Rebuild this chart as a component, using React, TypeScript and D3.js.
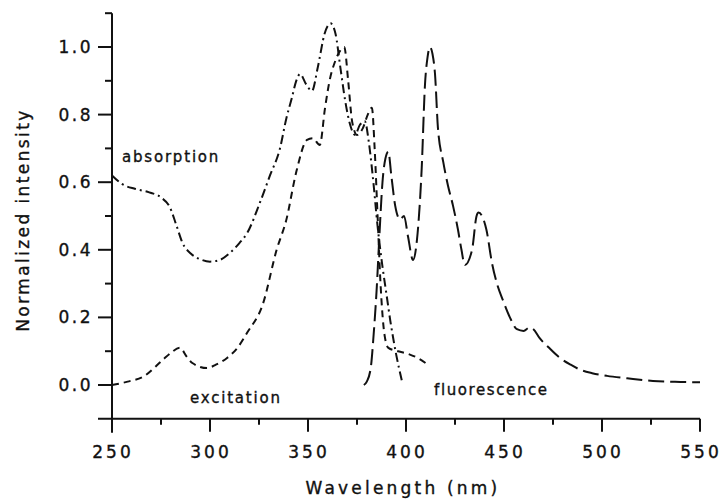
import React from "react";
import * as d3 from "d3";

const absorptionWl = [250, 255, 262, 269, 275, 279.6, 283, 286, 290, 295, 300, 305, 310, 315, 319, 325.5, 330.6, 335.7, 339, 341.8, 344, 346, 349, 352, 355, 358.5, 361.5, 364, 366.5, 369, 371.5, 374, 376.5, 379, 381, 383, 385.5, 388, 390, 392, 395, 398];
const absorptionVal = [0.62, 0.595, 0.58, 0.57, 0.555, 0.525, 0.47, 0.42, 0.39, 0.372, 0.365, 0.37, 0.39, 0.42, 0.45, 0.54, 0.62, 0.7, 0.79, 0.85, 0.9, 0.92, 0.89, 0.87, 0.94, 1.04, 1.07, 1.04, 0.94, 0.84, 0.77, 0.74, 0.77, 0.78, 0.72, 0.62, 0.47, 0.35, 0.27, 0.19, 0.09, 0.01];

const excitationWl = [250, 258, 266, 276, 280, 284.7, 288, 291, 298.5, 303, 308.7, 314, 319, 327, 334, 339, 344, 349.5, 352.5, 356, 358.7, 361, 364, 366.5, 368.5, 370.5, 372.5, 375, 378, 380.5, 382.6, 384, 385.5, 387, 389, 391, 396, 402, 406, 410];
const excitationVal = [0.0, 0.01, 0.025, 0.075, 0.095, 0.11, 0.085, 0.065, 0.05, 0.06, 0.08, 0.11, 0.155, 0.24, 0.4, 0.49, 0.63, 0.725, 0.73, 0.71, 0.82, 0.9, 0.96, 0.99, 1.0, 0.9, 0.78, 0.74, 0.76, 0.8, 0.82, 0.7, 0.5, 0.3, 0.15, 0.11, 0.1, 0.09, 0.08, 0.065];

const fluorescenceWl = [378.5, 380, 382, 383.5, 385, 386.5, 388, 389.5, 391, 392.5, 394.5, 397, 399, 401, 403.6, 405.6, 408, 409.7, 411, 412.2, 413.5, 414.8, 416.3, 419, 421.4, 424, 426.5, 428.3, 430, 433.7, 436, 437, 441, 443.9, 446.4, 449.5, 453, 456.6, 460, 463, 465, 468, 473, 478.6, 484, 489, 495, 502.6, 512.8, 526, 540, 550];
const fluorescenceVal = [0.0, 0.01, 0.05, 0.15, 0.28, 0.45, 0.6, 0.67, 0.69, 0.62, 0.53, 0.49, 0.5, 0.44, 0.37, 0.43, 0.64, 0.89, 0.97, 1.0, 0.98, 0.92, 0.76, 0.66, 0.59, 0.53, 0.46, 0.4, 0.355, 0.4, 0.5, 0.51, 0.46, 0.36, 0.3, 0.25, 0.2, 0.165, 0.16, 0.17, 0.165, 0.14, 0.11, 0.08, 0.06, 0.045, 0.035, 0.027, 0.02, 0.012, 0.009, 0.008];

const xTicks = [250, 300, 350, 400, 450, 500, 550];
const xMinorTicks = [275, 325, 375, 425, 475, 525];
const yTicks = [0.0, 0.2, 0.4, 0.6, 0.8, 1.0];
const yMinorTicks = [0.1, 0.3, 0.5, 0.7, 0.9, 1.1];

const seriesLabels = ["absorption", "excitation", "fluorescence"];
const xTitle = "Wavelength (nm)";
const yTitle = "Normalized intensity";

export default function App() {
  const x = d3.scaleLinear().domain([250, 550]).range([112, 700]);
  const y = d3.scaleLinear().domain([0, 1]).range([385, 47]);
  const axisY = y(-0.1);
  const ink = "#111";
  const font = "'DejaVu Sans', Verdana, sans-serif";
  const textStroke = { stroke: ink, strokeWidth: 0.35 };

  const mk = (wl: number[], v: number[]) =>
    d3
      .line<number>()
      .x((d, i) => x(wl[i]))
      .y((d) => y(d))
      .curve(d3.curveMonotoneX)(v) as string;

  return (
    <svg width={721} height={501} style={{ position: "absolute", left: 0, top: 0, background: "#fff" }} fontFamily={font}>
      <rect width={721} height={501} fill="#fff" />
      <line x1={98} x2={x(550)} y1={axisY} y2={axisY} stroke={ink} strokeWidth={2} />
      <line x1={x(250)} x2={x(250)} y1={y(1.1)} y2={axisY + 14} stroke={ink} strokeWidth={2} />
      {xTicks.map((t) => (
        <g key={"xt" + t}>
          <line x1={x(t)} x2={x(t)} y1={axisY} y2={axisY + 13} stroke={ink} strokeWidth={2} />
          <text x={x(t) + 1} y={458} textAnchor="middle" fontSize={17} letterSpacing={3} fill={ink} {...textStroke}>
            {t}
          </text>
        </g>
      ))}
      {xMinorTicks.map((t) => (
        <line key={"xm" + t} x1={x(t)} x2={x(t)} y1={axisY} y2={axisY + 6} stroke={ink} strokeWidth={2} />
      ))}
      {yTicks.map((t) => (
        <g key={"yt" + t}>
          <line x1={x(250) - 14} x2={x(250)} y1={y(t)} y2={y(t)} stroke={ink} strokeWidth={2} />
          <text x={93} y={y(t) + 6} textAnchor="end" fontSize={17} letterSpacing={2.5} fill={ink} {...textStroke}>
            {t.toFixed(1)}
          </text>
        </g>
      ))}
      {yMinorTicks.map((t) => (
        <line key={"ym" + t} x1={x(250) - 7} x2={x(250)} y1={y(t)} y2={y(t)} stroke={ink} strokeWidth={2} />
      ))}
      <path d={mk(absorptionWl, absorptionVal)} fill="none" stroke={ink} strokeWidth={2} strokeDasharray="9,4,2,4" />
      <path d={mk(excitationWl, excitationVal)} fill="none" stroke={ink} strokeWidth={2} strokeDasharray="7,5" />
      <path d={mk(fluorescenceWl, fluorescenceVal)} fill="none" stroke={ink} strokeWidth={2} strokeDasharray="16,6" />
      <text x={122} y={162} fontSize={15} letterSpacing={1.8} fill={ink} {...textStroke}>{seriesLabels[0]}</text>
      <text x={190} y={403} fontSize={15} letterSpacing={1.8} fill={ink} {...textStroke}>{seriesLabels[1]}</text>
      <text x={434} y={395} fontSize={15} letterSpacing={1.6} fill={ink} {...textStroke}>{seriesLabels[2]}</text>
      <text x={403} y={494} textAnchor="middle" fontSize={17} letterSpacing={3.2} fill={ink} {...textStroke}>{xTitle}</text>
      <text transform="translate(29,220) rotate(-90)" textAnchor="middle" fontSize={17} letterSpacing={2.4} fill={ink} {...textStroke}>{yTitle}</text>
    </svg>
  );
}
